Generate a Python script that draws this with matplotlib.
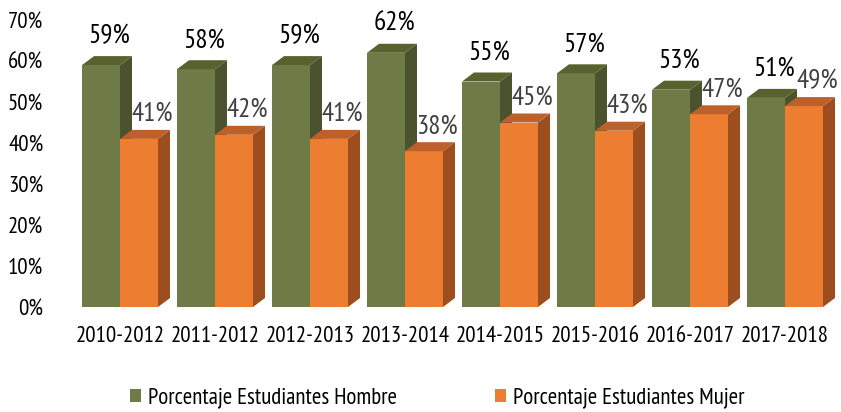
import matplotlib
matplotlib.use("Agg")
import matplotlib.pyplot as plt
from matplotlib.patches import Polygon, Patch
from matplotlib import font_manager as fm

names = {f.name for f in fm.fontManager.ttflist}
fam = [n for n in ["PT Sans Narrow", "Cabin Condensed", "Roboto Condensed", "DejaVu Sans"] if n in names]
plt.rcParams['font.family'] = fam

categories = ["2010-2012", "2011-2012", "2012-2013", "2013-2014",
              "2014-2015", "2015-2016", "2016-2017", "2017-2018"]
hombre = [59, 58, 59, 62, 55, 57, 53, 51]
mujer = [41, 42, 41, 38, 45, 43, 47, 49]
series_names = ["Porcentaje Estudiantes Hombre", "Porcentaje Estudiantes Mujer"]
yticks = [0, 10, 20, 30, 40, 50, 60, 70]

green = ("#6E7B47", "#4A522E", "#57622F")   # front, side, top
orange = ("#ED7D31", "#9C4E1E", "#BE6029")

W, H = 841, 412
fig = plt.figure(figsize=(W / 100, H / 100), dpi=100)
ax_left, ax_right = 60, 835
ax_top, ax_bot = 20, 307
ax = fig.add_axes([ax_left / W, (H - ax_bot) / H, (ax_right - ax_left) / W, (ax_bot - ax_top) / H])
px_per_x = 95.0
xmin = -(120 - ax_left) / px_per_x
xmax = 7 + (ax_right - 785) / px_per_x
ax.set_xlim(xmin, xmax)
ax.set_ylim(0, 70)
px_per_y = (ax_bot - ax_top) / 70.0

bw = 38 / px_per_x
dx = 12 / px_per_x
dy = 9 / px_per_y


def bar3d(x0, h, cols):
    f, s, t = cols
    ax.add_patch(Polygon([(x0, 0), (x0 + bw, 0), (x0 + bw, h), (x0, h)],
                         closed=True, fc=f, ec="none", zorder=2))
    ax.add_patch(Polygon([(x0 + bw, 0), (x0 + bw + dx, dy), (x0 + bw + dx, h + dy), (x0 + bw, h)],
                         closed=True, fc=s, ec="none", zorder=2))
    ax.add_patch(Polygon([(x0, h), (x0 + bw, h), (x0 + bw + dx, h + dy), (x0 + dx, h + dy)],
                         closed=True, fc=t, ec="none", zorder=2))


for i in range(len(categories)):
    bar3d(i - bw, hombre[i], green)
    bar3d(i, mujer[i], orange)
    ax.text(i - bw / 2 + dx / 2 + 2 / px_per_x, hombre[i] + dy + 8 / px_per_y, f"{hombre[i]}%",
            ha="center", va="bottom", fontsize=19.5, color="#000000", zorder=3)
    ax.text(i + bw / 2 + dx / 2 + 7 / px_per_x, mujer[i] + dy + 4 / px_per_y, f"{mujer[i]}%",
            ha="center", va="bottom", fontsize=19.5, color="#404040", zorder=3)

ax.set_yticks(yticks)
ax.set_yticklabels([f"{v}%" for v in yticks], fontsize=16.5)
ax.set_xticks(range(len(categories)))
ax.set_xticklabels(categories, fontsize=16.5)
ax.tick_params(axis="both", length=0)
ax.tick_params(axis="y", pad=12)
ax.tick_params(axis="x", pad=14)
for s in ax.spines.values():
    s.set_visible(False)

handles = [Patch(fc=green[0], ec="none"), Patch(fc=orange[0], ec="none")]
fig.legend(handles, series_names, loc="center", bbox_to_anchor=(0.52, 1 - 398 / H),
           ncol=2, frameon=False, fontsize=16.5, handlelength=0.5, handleheight=0.5,
           handletextpad=0.3, columnspacing=4.25)

fig.savefig("out.png", dpi=100)
